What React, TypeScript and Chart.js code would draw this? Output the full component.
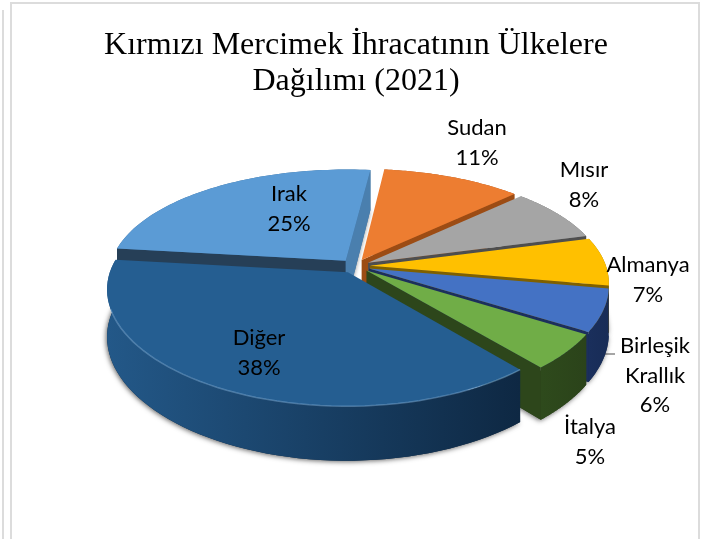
import React, { useEffect, useRef } from "react";
import { Chart, registerables } from "chart.js";

Chart.register(...registerables);

const categories = ["Sudan", "Mısır", "Almanya", "Birleşik Krallık", "İtalya", "Diğer", "Irak"];
const shares = [11, 8, 7, 6, 5, 38, 25];
const titleLines = ["Kırmızı Mercimek İhracatının Ülkelere", "Dağılımı (2021)"];

const topColors = ["#ED7D31", "#A5A5A5", "#FFC000", "#4472C4", "#70AD47", "#255E91", "#5B9BD5"];
const startWallColors = ["#8E4A1A", "#555555", "#8A6A00", "#1C2F5C", "#2E4A1C", "#1A3F62", "#263F57"];
const endWallColors = ["#9C4C14", "#4E4E4E", "#7F6000", "#1C2F5C", "#2D461B", "#1A3F62", "#4A7FAE"];
const rimFrom = ["#A9561F", "#6E6E6E", "#A67C00", "#1A2F5C", "#2E4A1C", "#235888", "#3E6E9A"];
const rimTo = ["#A9561F", "#6E6E6E", "#8A6A00", "#182C56", "#2B431A", "#0E2843", "#3E6E9A"];

const labelLines: string[][] = [
  ["Sudan", "11%"],
  ["Mısır", "8%"],
  ["Almanya", "7%"],
  ["Birleşik", "Krallık", "6%"],
  ["İtalya", "5%"],
  ["Diğer", "38%"],
  ["Irak", "25%"],
];
const labelCentres = [
  [477, 128],
  [584, 170],
  [648, 265],
  [655, 346],
  [590, 427],
  [259, 338],
  [289, 194],
];

const CX = 355;
const CY = 266;
const TILT = 0.46;
const PERSP_X = 1600;
const PERSP_Y = 1366;
const DEPTH = 46;
const paintOrder = [6, 0, 1, 2, 3, 4, 5];

function project(X: number, Y: number, Z = 0): [number, number] {
  const sx = 1 / (1 - Y / PERSP_X);
  const sy = 1 / (1 - Y / PERSP_Y);
  return [CX + X * sx, CY + TILT * Y * sy + Z * sx];
}

function tracePoly(ctx: CanvasRenderingContext2D, pts: [number, number][]) {
  ctx.beginPath();
  pts.forEach((p, i) => (i ? ctx.lineTo(p[0], p[1]) : ctx.moveTo(p[0], p[1])));
  ctx.closePath();
}

const pie3d = {
  id: "pie3d",
  beforeDraw(chart: any) {
    const { ctx } = chart;
    ctx.save();
    ctx.fillStyle = "#fff";
    ctx.fillRect(0, 0, 705, 539);
    ctx.strokeStyle = "#DCDCDC";
    ctx.lineWidth = 2;
    ctx.beginPath();
    ctx.moveTo(3, 10);
    ctx.lineTo(3, 539);
    ctx.moveTo(11, 539);
    ctx.lineTo(11, 3);
    ctx.lineTo(699, 3);
    ctx.lineTo(699, 539);
    ctx.stroke();
    ctx.restore();
  },
  beforeDatasetsDraw(chart: any) {
    const { ctx } = chart;
    const arcs = chart.getDatasetMeta(0).data;
    ctx.save();
    // leader line
    ctx.strokeStyle = "#A6A6A6";
    ctx.lineWidth = 2;
    ctx.beginPath();
    ctx.moveTo(600, 354);
    ctx.lineTo(615, 354);
    ctx.stroke();

    paintOrder.forEach((i) => {
      const a = arcs[i];
      const { startAngle, endAngle, outerRadius } = a.getProps(
        ["startAngle", "endAngle", "outerRadius"],
        true
      );
      const off = a.options.offset;
      const mid = (startAngle + endAngle) / 2;
      const ox = off * Math.cos(mid);
      const oy = off * Math.sin(mid);
      const n = 60;
      const rim: [number, number][] = [];
      const low: [number, number][] = [];
      for (let k = 0; k <= n; k++) {
        const t = startAngle + ((endAngle - startAngle) * k) / n;
        const X = ox + outerRadius * Math.cos(t);
        const Y = oy + outerRadius * Math.sin(t);
        rim.push(project(X, Y));
        low.push(project(X, Y, DEPTH));
      }
      const apex = project(ox, oy);
      const apexLow = project(ox, oy, DEPTH);

      // soft shadow under the body
      ctx.save();
      ctx.shadowColor = "rgba(0,0,0,0.6)";
      ctx.shadowBlur = 5;
      ctx.shadowOffsetX = -1;
      ctx.shadowOffsetY = 1;
      ctx.fillStyle = rimTo[i];
      tracePoly(ctx, [apexLow, ...low]);
      ctx.fill();
      ctx.restore();

      // outer wall
      const xs = rim.map((p) => p[0]);
      const grad = ctx.createLinearGradient(Math.min(...xs), 0, Math.max(...xs), 0);
      grad.addColorStop(0, rimFrom[i]);
      grad.addColorStop(1, rimTo[i]);
      ctx.fillStyle = grad;
      tracePoly(ctx, [...rim, ...low.slice().reverse()]);
      ctx.fill();

      // radial walls that face the viewer
      if (-Math.cos(startAngle) > 0) {
        ctx.fillStyle = startWallColors[i];
        tracePoly(ctx, [apex, rim[0], low[0], apexLow]);
        ctx.fill();
      }
      if (Math.cos(endAngle) > 0) {
        ctx.fillStyle = endWallColors[i];
        tracePoly(ctx, [apex, rim[n], low[n], apexLow]);
        ctx.fill();
      }

      // top face
      ctx.fillStyle = a.options.backgroundColor;
      tracePoly(ctx, [apex, ...rim]);
      ctx.fill();

      // bevel highlight on the front-facing rim of the largest slice
      if (i === 5) {
        ctx.strokeStyle = "rgba(150,195,235,0.4)";
        ctx.lineWidth = 1.5;
        ctx.beginPath();
        let pen = false;
        rim.forEach((p) => {
          if (p[1] > 305) {
            if (pen) ctx.lineTo(p[0], p[1]);
            else ctx.moveTo(p[0], p[1]);
            pen = true;
          }
        });
        ctx.stroke();
      }
    });
    ctx.restore();
    return false;
  },
  afterDraw(chart: any) {
    const { ctx } = chart;
    ctx.save();
    ctx.fillStyle = "#000";
    ctx.font = "22px Lato";
    ctx.textAlign = "center";
    ctx.textBaseline = "middle";
    labelLines.forEach((lines, i) => {
      lines.forEach((line, j) => {
        ctx.fillText(line, labelCentres[i][0], labelCentres[i][1] + j * 29.5);
      });
    });
    ctx.restore();
  },
};

export default function App() {
  const ref = useRef<HTMLCanvasElement>(null);
  useEffect(() => {
    const chart = new Chart(ref.current as HTMLCanvasElement, {
      type: "pie",
      data: {
        labels: categories,
        datasets: [
          {
            data: shares,
            backgroundColor: topColors,
            borderWidth: 0,
            offset: 15,
          },
        ],
      },
      options: {
        animation: false,
        responsive: false,
        rotation: 6.6,
        radius: 236,
        layout: { padding: { left: 7 } },
        plugins: {
          legend: { display: false },
          tooltip: { enabled: false },
          title: {
            display: true,
            text: titleLines,
            color: "#000",
            font: { family: '"Liberation Serif"', size: 32, weight: "normal", lineHeight: 1.14 },
            padding: { top: 27, bottom: 10 },
          },
        },
      },
      plugins: [pie3d],
    } as any);
    return () => chart.destroy();
  }, []);
  return (
    <canvas
      ref={ref}
      width={705}
      height={539}
      style={{ position: "absolute", left: 0, top: 0, display: "block" }}
    />
  );
}
